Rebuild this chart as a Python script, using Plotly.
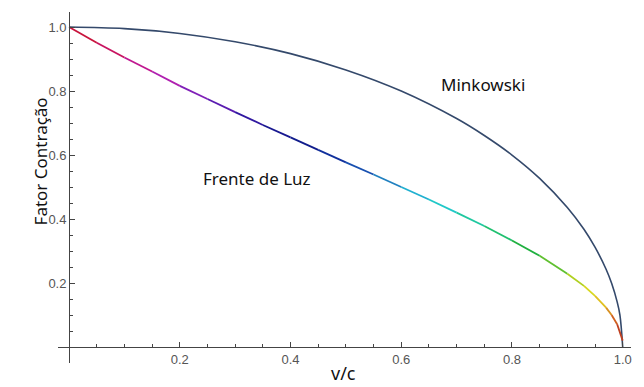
import plotly.graph_objects as go

# Minkowski curve
mink_v = [0, 0.1, 0.2, 0.3, 0.4, 0.5, 0.6, 0.7, 0.75, 0.8, 0.85, 0.9, 0.93, 0.95, 0.97, 0.98, 0.99, 0.995, 1.0]
mink_y = [1.0, 0.995, 0.980, 0.954, 0.917, 0.866, 0.800, 0.714, 0.661, 0.600, 0.527, 0.436, 0.368, 0.312, 0.243, 0.199, 0.141, 0.100, 0.0]

# Frente de Luz curve
luz_v = [0, 0.05, 0.1, 0.15, 0.2, 0.25, 0.3, 0.35, 0.4, 0.45, 0.5, 0.55, 0.6, 0.65, 0.7, 0.75, 0.8, 0.85, 0.9, 0.93, 0.95, 0.97, 0.98, 0.99, 1.0]
luz_y = [1.0, 0.951, 0.905, 0.861, 0.816, 0.775, 0.734, 0.694, 0.655, 0.616, 0.577, 0.539, 0.500, 0.461, 0.420, 0.378, 0.333, 0.285, 0.229, 0.191, 0.160, 0.123, 0.100, 0.071, 0.02]
luz_colors = ["#c8143c", "#c81460", "#c01890", "#b020b0", "#8020b8", "#5a1cb0", "#3018a0", "#181890",
              "#101c8c", "#10309c", "#1850b0", "#2080c0", "#20b0d0", "#20c8c8", "#20c8a0", "#20c070",
              "#20b040", "#60c030", "#b0d020", "#d8d820", "#e0c020", "#d89020", "#d06020", "#c04020", "#b03020"]

x_ticks = [0.2, 0.4, 0.6, 0.8, 1.0]
x_labels = ["0.2", "0.4", "0.6", "0.8", "1.0"]
y_ticks = [0.2, 0.4, 0.6, 0.8, 1.0]
y_labels = ["0.2", "0.4", "0.6", "0.8", "1.0"]

fig = go.Figure()

fig.add_trace(go.Scatter(x=mink_v, y=mink_y, mode="lines",
                         line=dict(color="#34496b", width=1.6, shape="spline"),
                         showlegend=False, hoverinfo="skip"))

for i in range(len(luz_v) - 1):
    fig.add_trace(go.Scatter(x=luz_v[i:i + 2], y=luz_y[i:i + 2], mode="lines",
                             line=dict(color=luz_colors[i], width=1.8),
                             showlegend=False, hoverinfo="skip"))

xr = [-0.02, 1.015]
yr = [-0.05, 1.047]

fig.update_layout(
    width=644, height=387,
    margin=dict(l=58, r=13, t=12, b=24),
    paper_bgcolor="white", plot_bgcolor="white",
    font=dict(family="Liberation Sans, Arial", size=13, color="#555555"),
    xaxis=dict(range=xr, showgrid=False, zeroline=False, showline=True, linecolor="#444444", linewidth=1,
               anchor="free", position=(0 - yr[0]) / (yr[1] - yr[0]), automargin=False,
               tickvals=x_ticks, ticktext=x_labels, ticks="inside", ticklen=5, tickcolor="#444444",
               minor=dict(dtick=0.05, tick0=0, ticks="inside", ticklen=3, tickcolor="#444444"),
               tickfont=dict(size=13, color="#555555")),
    yaxis=dict(range=yr, showgrid=False, zeroline=False, showline=True, linecolor="#444444", linewidth=1,
               anchor="free", position=(0 - xr[0]) / (xr[1] - xr[0]), automargin=False,
               tickvals=y_ticks, ticktext=y_labels, ticks="inside", ticklen=5, tickcolor="#444444",
               minor=dict(dtick=0.05, tick0=0, ticks="inside", ticklen=3, tickcolor="#444444"),
               tickfont=dict(size=13, color="#555555")),
)

fig.add_annotation(x=0.747, y=0.819, xref="x", yref="y", text="Minkowski", showarrow=False,
                   font=dict(family="Noto Sans, Open Sans", size=17, color="#111111"))
fig.add_annotation(x=0.340, y=0.528, xref="x", yref="y", text="Frente de Luz", showarrow=False,
                   font=dict(family="Noto Sans, Open Sans", size=17, color="#111111"))
fig.add_annotation(x=0.495, y=-0.028, xref="x", yref="paper", text="v/c", showarrow=False,
                   yanchor="middle", font=dict(family="Noto Sans, Open Sans", size=18, color="#111111"))
fig.add_annotation(x=-0.054, y=0.573, xref="paper", yref="paper", text="Fator Contração", showarrow=False,
                   textangle=-90, font=dict(family="Noto Sans, Open Sans", size=17, color="#111111"))

fig.write_html("out.html", config={"displayModeBar": False},
               post_script="document.body.style.margin='0';document.body.style.overflow='hidden';")
